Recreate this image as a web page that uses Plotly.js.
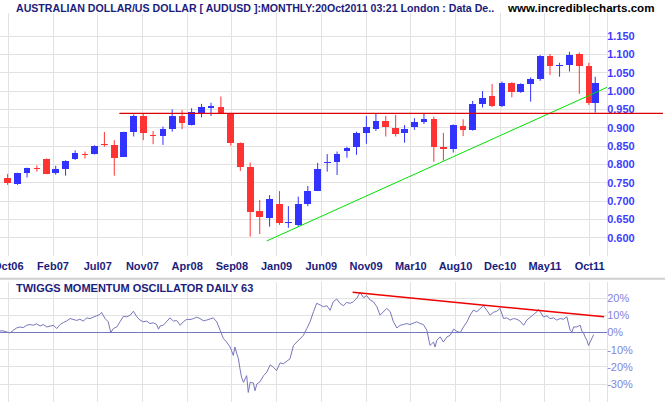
<!DOCTYPE html>
<html><head><meta charset="utf-8">
<script src="https://cdn.plot.ly/plotly-3.0.1.min.js"></script>
<style>html,body{margin:0;padding:0;background:#fff;}#chart{width:665px;height:405px;}</style>
</head><body><div id="chart"></div>
<script>
// ---------------- data ----------------
const candleDates = [
 '2006-09-30','2006-10-31','2006-11-30','2006-12-31',
 '2007-01-31','2007-02-28','2007-03-31','2007-04-30','2007-05-31','2007-06-30','2007-07-31','2007-08-31','2007-09-30','2007-10-31','2007-11-30','2007-12-31',
 '2008-01-31','2008-02-29','2008-03-31','2008-04-30','2008-05-31','2008-06-30','2008-07-31','2008-08-31','2008-09-30','2008-10-31','2008-11-30','2008-12-31',
 '2009-01-31','2009-02-28','2009-03-31','2009-04-30','2009-05-31','2009-06-30','2009-07-31','2009-08-31','2009-09-30','2009-10-31','2009-11-30','2009-12-31',
 '2010-01-31','2010-02-28','2010-03-31','2010-04-30','2010-05-31','2010-06-30','2010-07-31','2010-08-31','2010-09-30','2010-10-31','2010-11-30','2010-12-31',
 '2011-01-31','2011-02-28','2011-03-31','2011-04-30','2011-05-31','2011-06-30','2011-07-31','2011-08-31','2011-09-30','2011-10-20'];
const openVals = [0.763,0.747,0.777,0.791, 0.814,0.777,0.788,0.815,0.828,0.828,0.854,0.853,0.821,0.889,0.932,0.879,
 0.878,0.896,0.932,0.908,0.936,0.955,0.957,0.939,0.859,0.793,0.673,0.655,
 0.692,0.639,0.635,0.692,0.728,0.803,0.807,0.837,0.846,0.886,0.897,0.918,
 0.899,0.886,0.901,0.915,0.924,0.847,0.843,0.905,0.894,0.965,0.987,0.960,
 1.023,0.998,1.019,1.033,1.096,1.069,1.071,1.101,1.068,0.968];
const highVals = [0.774,0.777,0.791,0.797, 0.816,0.796,0.811,0.838,0.835,0.852,0.888,0.866,0.889,0.936,0.939,0.891,
 0.903,0.950,0.948,0.953,0.965,0.968,0.985,0.940,0.860,0.805,0.703,0.716,
 0.727,0.686,0.712,0.741,0.804,0.828,0.835,0.848,0.889,0.932,0.939,0.932,
 0.935,0.907,0.926,0.939,0.930,0.886,0.909,0.923,0.973,1.000,1.019,1.026,
 1.024,1.021,1.037,1.098,1.101,1.077,1.107,1.105,1.077,1.039];
const lowVals = [0.744,0.744,0.764,0.780, 0.773,0.772,0.769,0.812,0.816,0.827,0.848,0.769,0.820,0.876,0.866,0.855,
 0.853,0.889,0.896,0.906,0.928,0.932,0.938,0.851,0.782,0.603,0.610,0.630,
 0.635,0.627,0.630,0.686,0.727,0.780,0.771,0.818,0.826,0.856,0.891,0.876,
 0.876,0.859,0.894,0.910,0.807,0.810,0.832,0.877,0.892,0.955,0.956,0.956,
 0.983,0.995,0.971,1.028,1.044,1.039,1.053,0.992,0.962,0.941];
const closeVals = [0.750,0.776,0.790,0.789, 0.775,0.787,0.809,0.830,0.827,0.850,0.852,0.818,0.888,0.932,0.886,0.877,
 0.896,0.932,0.914,0.942,0.956,0.959,0.939,0.859,0.794,0.671,0.657,0.706,
 0.641,0.643,0.692,0.727,0.787,0.806,0.828,0.845,0.886,0.902,0.918,0.901,
 0.884,0.896,0.915,0.924,0.847,0.843,0.906,0.894,0.965,0.981,0.960,1.023,
 0.998,1.019,1.032,1.096,1.069,1.072,1.098,1.069,0.968,1.023];

const xTickDates = ['2006-10-02','2007-02-19 12:00','2007-07-10','2007-11-27 12:00','2008-04-16','2008-09-03 12:00','2009-01-22',
 '2009-06-11 12:00','2009-10-30','2010-03-19 12:00','2010-08-07','2010-12-25 12:00','2011-05-15','2011-10-02 12:00'];
const xTickLabels = ['Oct06','Feb07','Jul07','Nov07','Apr08','Sep08','Jan09','Jun09','Nov09','Mar10','Aug10','Dec10','May11','Oct11'];
const priceTicks = [0.55,0.60,0.65,0.70,0.75,0.80,0.85,0.90,0.95,1.00,1.05,1.10,1.15];
const pctTicks = [-30,-20,-10,0,10,20];

// daily momentum oscillator readings: days after 2006-10-02, value in %
const oscBaseDate = '2006-10-02';
const oscDays = [-26,-16,-5,5,16,26,37,47,58,68,79,89,100,110,121,131,142,152,163,173,183,194,204,215,225,236,246,257,267,278,288,293,304,314,322,330,341,351,362,372,383,393,404,414,424,435,445,456,466,472,477,487,498,508,519,529,540,550,561,571,582,592,602,613,623,634,644,655,665,676,686,697,707,712,718,723,728,733,739,749,754,760,770,775,781,791,802,812,823,833,843,854,864,875,885,896,906,917,927,938,948,959,969,980,990,1001,1011,1021,1032,1042,1053,1063,1074,1084,1095,1105,1116,1126,1137,1147,1158,1168,1179,1189,1200,1210,1221,1231,1241,1252,1262,1273,1283,1294,1304,1315,1320,1325,1336,1341,1346,1357,1367,1378,1388,1399,1409,1420,1430,1441,1451,1461,1472,1482,1493,1503,1514,1524,1535,1545,1556,1566,1577,1587,1598,1608,1619,1629,1640,1650,1661,1666,1671,1681,1692,1702,1713,1723,1734,1744,1755,1760,1765,1771,1776,1786,1797,1802,1807,1812,1818,1823,1828,1833,1839];
const oscPct = [1.0,1.0,0.4,-0.2,1.4,2.7,3.3,2.9,4.3,4.7,4.3,5.1,3.9,4.7,3.3,3.7,4.3,2.4,4.7,5.9,6.7,8.2,7.6,7.1,7.8,6.7,8.6,8.2,9.0,9.8,10.6,11.8,8.2,6.3,0.0,2.4,3.3,6.3,9.6,9.2,10.2,12.5,9.2,7.3,6.3,6.7,5.3,5.7,4.7,2.0,3.9,4.3,6.3,8.6,6.7,7.1,4.3,6.3,7.8,7.6,8.2,9.0,8.2,6.9,7.3,8.2,8.6,6.3,1.4,-3.5,-5.5,-8.4,-13.3,-8.4,-12.4,-15.3,-21.2,-26.1,-29.0,-25.1,-34.9,-29.0,-29.4,-33.9,-30.0,-28.6,-25.1,-23.1,-18.8,-20.2,-22.2,-17.6,-18.2,-16.9,-15.3,-7.5,-5.5,-3.5,-1.6,2.4,6.3,12.2,17.1,16.1,15.1,15.7,13.0,18.0,19.6,17.1,15.7,17.6,17.1,18.0,20.0,23.5,20.4,21.6,19.0,18.0,15.1,10.2,12.2,14.1,12.2,6.3,2.7,4.3,4.7,5.3,4.7,5.3,6.3,5.3,4.7,1.4,-3.5,-7.5,-5.5,-8.4,-4.5,-2.5,-5.5,-2.5,-1.6,2.0,0.8,0.0,3.3,6.3,10.2,13.1,12.2,14.1,15.7,13.1,10.2,11.8,12.5,14.1,8.2,8.6,7.3,8.2,7.8,6.7,4.3,7.3,9.2,10.6,12.2,13.5,12.2,9.2,9.8,8.2,8.6,7.3,8.2,7.8,9.2,4.3,1.4,0.4,3.3,3.3,4.3,0.8,0.0,-2.5,-4.5,-7.5,-5.5,-3.5,-1.2];

const resistanceLevel = 0.939;
const resistanceStart = '2007-09-16';
const trendDates = ['2008-12-22','2011-11-26'];
const trendVals = [0.591,1.010];
const oscTrendDates = ['2009-09-18','2011-11-17'];
const oscTrendVals = [23.5,9.2];

// ---------------- drawing ----------------
const xRange = ['2006-09-06','2011-11-26'];
const UP = '#3333ff', DOWN = '#ff3333';
const NAVY = '#1c1c7c';
const FONT = 'Arial, "Liberation Sans", sans-serif';
const DAY = 86400000;
function ms(s){const p=s.split(/[- :]/).map(Number);return Date.UTC(p[0],p[1]-1,p[2],p[3]||0,p[4]||0);}

const bodyBase=[], bodyH=[], bodyCol=[];
const wUp={x:[],y:[]}, wDn={x:[],y:[]};
for(let i=0;i<candleDates.length;i++){
  const o=openVals[i], c=closeVals[i];
  const up = c>=o;
  const minH=0.0028;
  let b=Math.min(o,c), h=Math.abs(c-o);
  if(h<minH){b=(o+c)/2-minH/2; h=minH;}
  bodyBase.push(b); bodyH.push(h); bodyCol.push(up?UP:DOWN);
  const w = up?wUp:wDn;
  w.x.push(candleDates[i],candleDates[i],null);
  w.y.push(lowVals[i],highVals[i],null);
}
const oscX = oscDays.map(d=>new Date(ms(oscBaseDate)+d*DAY).toISOString().slice(0,10));

const traces = [
  {type:'scatter',mode:'lines',x:wUp.x,y:wUp.y,line:{color:UP,width:1},xaxis:'x',yaxis:'y',hoverinfo:'skip'},
  {type:'scatter',mode:'lines',x:wDn.x,y:wDn.y,line:{color:DOWN,width:1},xaxis:'x',yaxis:'y',hoverinfo:'skip'},
  {type:'bar',x:candleDates,y:bodyH,base:bodyBase,width:21*DAY,marker:{color:bodyCol,line:{width:0}},xaxis:'x',yaxis:'y'},
  {type:'scatter',mode:'lines',x:trendDates,y:trendVals,line:{color:'#00e000',width:1},xaxis:'x',yaxis:'y'},
  {type:'scatter',mode:'lines',x:oscX,y:oscPct,line:{color:'#7676bb',width:1},xaxis:'x2',yaxis:'y2'},
  {type:'scatter',mode:'lines',x:oscTrendDates,y:oscTrendVals,line:{color:'#ee0000',width:1.5},xaxis:'x2',yaxis:'y2'}
];

const resFrac = (ms(resistanceStart)-ms(xRange[0]))/(ms(xRange[1])-ms(xRange[0]));
const W=665, H=405, PW=607;
const GRID='#e2e2e2';

const layout = {
  width:W, height:H,
  margin:{l:0,r:W-PW,t:0,b:0,pad:0},
  paper_bgcolor:'#ffffff', plot_bgcolor:'#ffffff',
  showlegend:false, barmode:'overlay', bargap:0, hovermode:false,
  font:{family:FONT},
  xaxis:{type:'date',range:xRange,domain:[0,1],anchor:'y',tickmode:'array',tickvals:xTickDates,ticktext:xTickLabels,
    showgrid:true,gridcolor:GRID,gridwidth:1,ticks:'',showline:false,zeroline:false,ticklabeloverflow:'allow',ticklabelstandoff:2,
    tickfont:{family:FONT,size:11,color:NAVY,weight:'bold'},rangeslider:{visible:false},fixedrange:true},
  yaxis:{domain:[1-256/H,1-13.3/H],range:[0.55,1.212],side:'right',anchor:'x',tickmode:'array',
    tickvals:priceTicks,ticktext:priceTicks.map(v=>v<0.575?'':v.toFixed(3)),ticklabelstandoff:-3,
    showgrid:true,gridcolor:GRID,gridwidth:1,ticks:'',showline:true,linecolor:GRID,linewidth:1,zeroline:false,
    tickfont:{family:FONT,size:11,color:'#3c3cff',weight:'bold'},fixedrange:true},
  xaxis2:{type:'date',range:xRange,domain:[0,1],anchor:'y2',tickmode:'array',tickvals:xTickDates,showticklabels:false,
    showgrid:true,gridcolor:GRID,gridwidth:1,ticks:'',showline:false,zeroline:false,fixedrange:true},
  yaxis2:{domain:[1-401.7/H,1-281.7/H],range:[-40.3,29.7],side:'right',anchor:'x2',tickmode:'array',
    tickvals:pctTicks,ticktext:pctTicks.map(v=>v+'%'),ticklabelstandoff:-3,
    showgrid:true,gridcolor:GRID,gridwidth:1,ticks:'',showline:true,linecolor:GRID,linewidth:1,
    zeroline:true,zerolinecolor:'#7878c0',zerolinewidth:1,
    tickfont:{family:FONT,size:11,color:'#8484dc'},fixedrange:true},
  shapes:[
    {type:'line',xref:'paper',yref:'y',x0:resFrac,x1:(W-2)/PW,y0:resistanceLevel,y1:resistanceLevel,line:{color:'#dd0000',width:1.2}},
    {type:'line',xref:'paper',yref:'paper',x0:0,x1:W/PW,y0:1-278.7/H,y1:1-278.7/H,line:{color:'#cfcfcf',width:2}}
  ],
  annotations:[
    {text:'AUSTRALIAN DOLLAR/US DOLLAR [ AUDUSD ]:MONTHLY:20Oct2011 03:21 London : Data De..',xref:'paper',yref:'paper',
     x:14/PW,y:1-8/H,xanchor:'left',yanchor:'middle',showarrow:false,font:{family:FONT,size:10.6,color:NAVY,weight:'bold'}},
    {text:'www.incrediblecharts.com',xref:'paper',yref:'paper',x:656/PW,y:1-8/H,xanchor:'right',yanchor:'middle',showarrow:false,
     font:{family:FONT,size:11.6,color:'#000000',weight:'bold'}},
    {text:'TWIGGS MOMENTUM OSCILLATOR DAILY 63',xref:'paper',yref:'paper',x:14/PW,y:1-288.3/H,xanchor:'left',yanchor:'middle',showarrow:false,
     font:{family:FONT,size:11,color:NAVY,weight:'bold'}}
  ]
};
Plotly.newPlot('chart',traces,layout,{staticPlot:true,displayModeBar:false});
</script></body></html>
